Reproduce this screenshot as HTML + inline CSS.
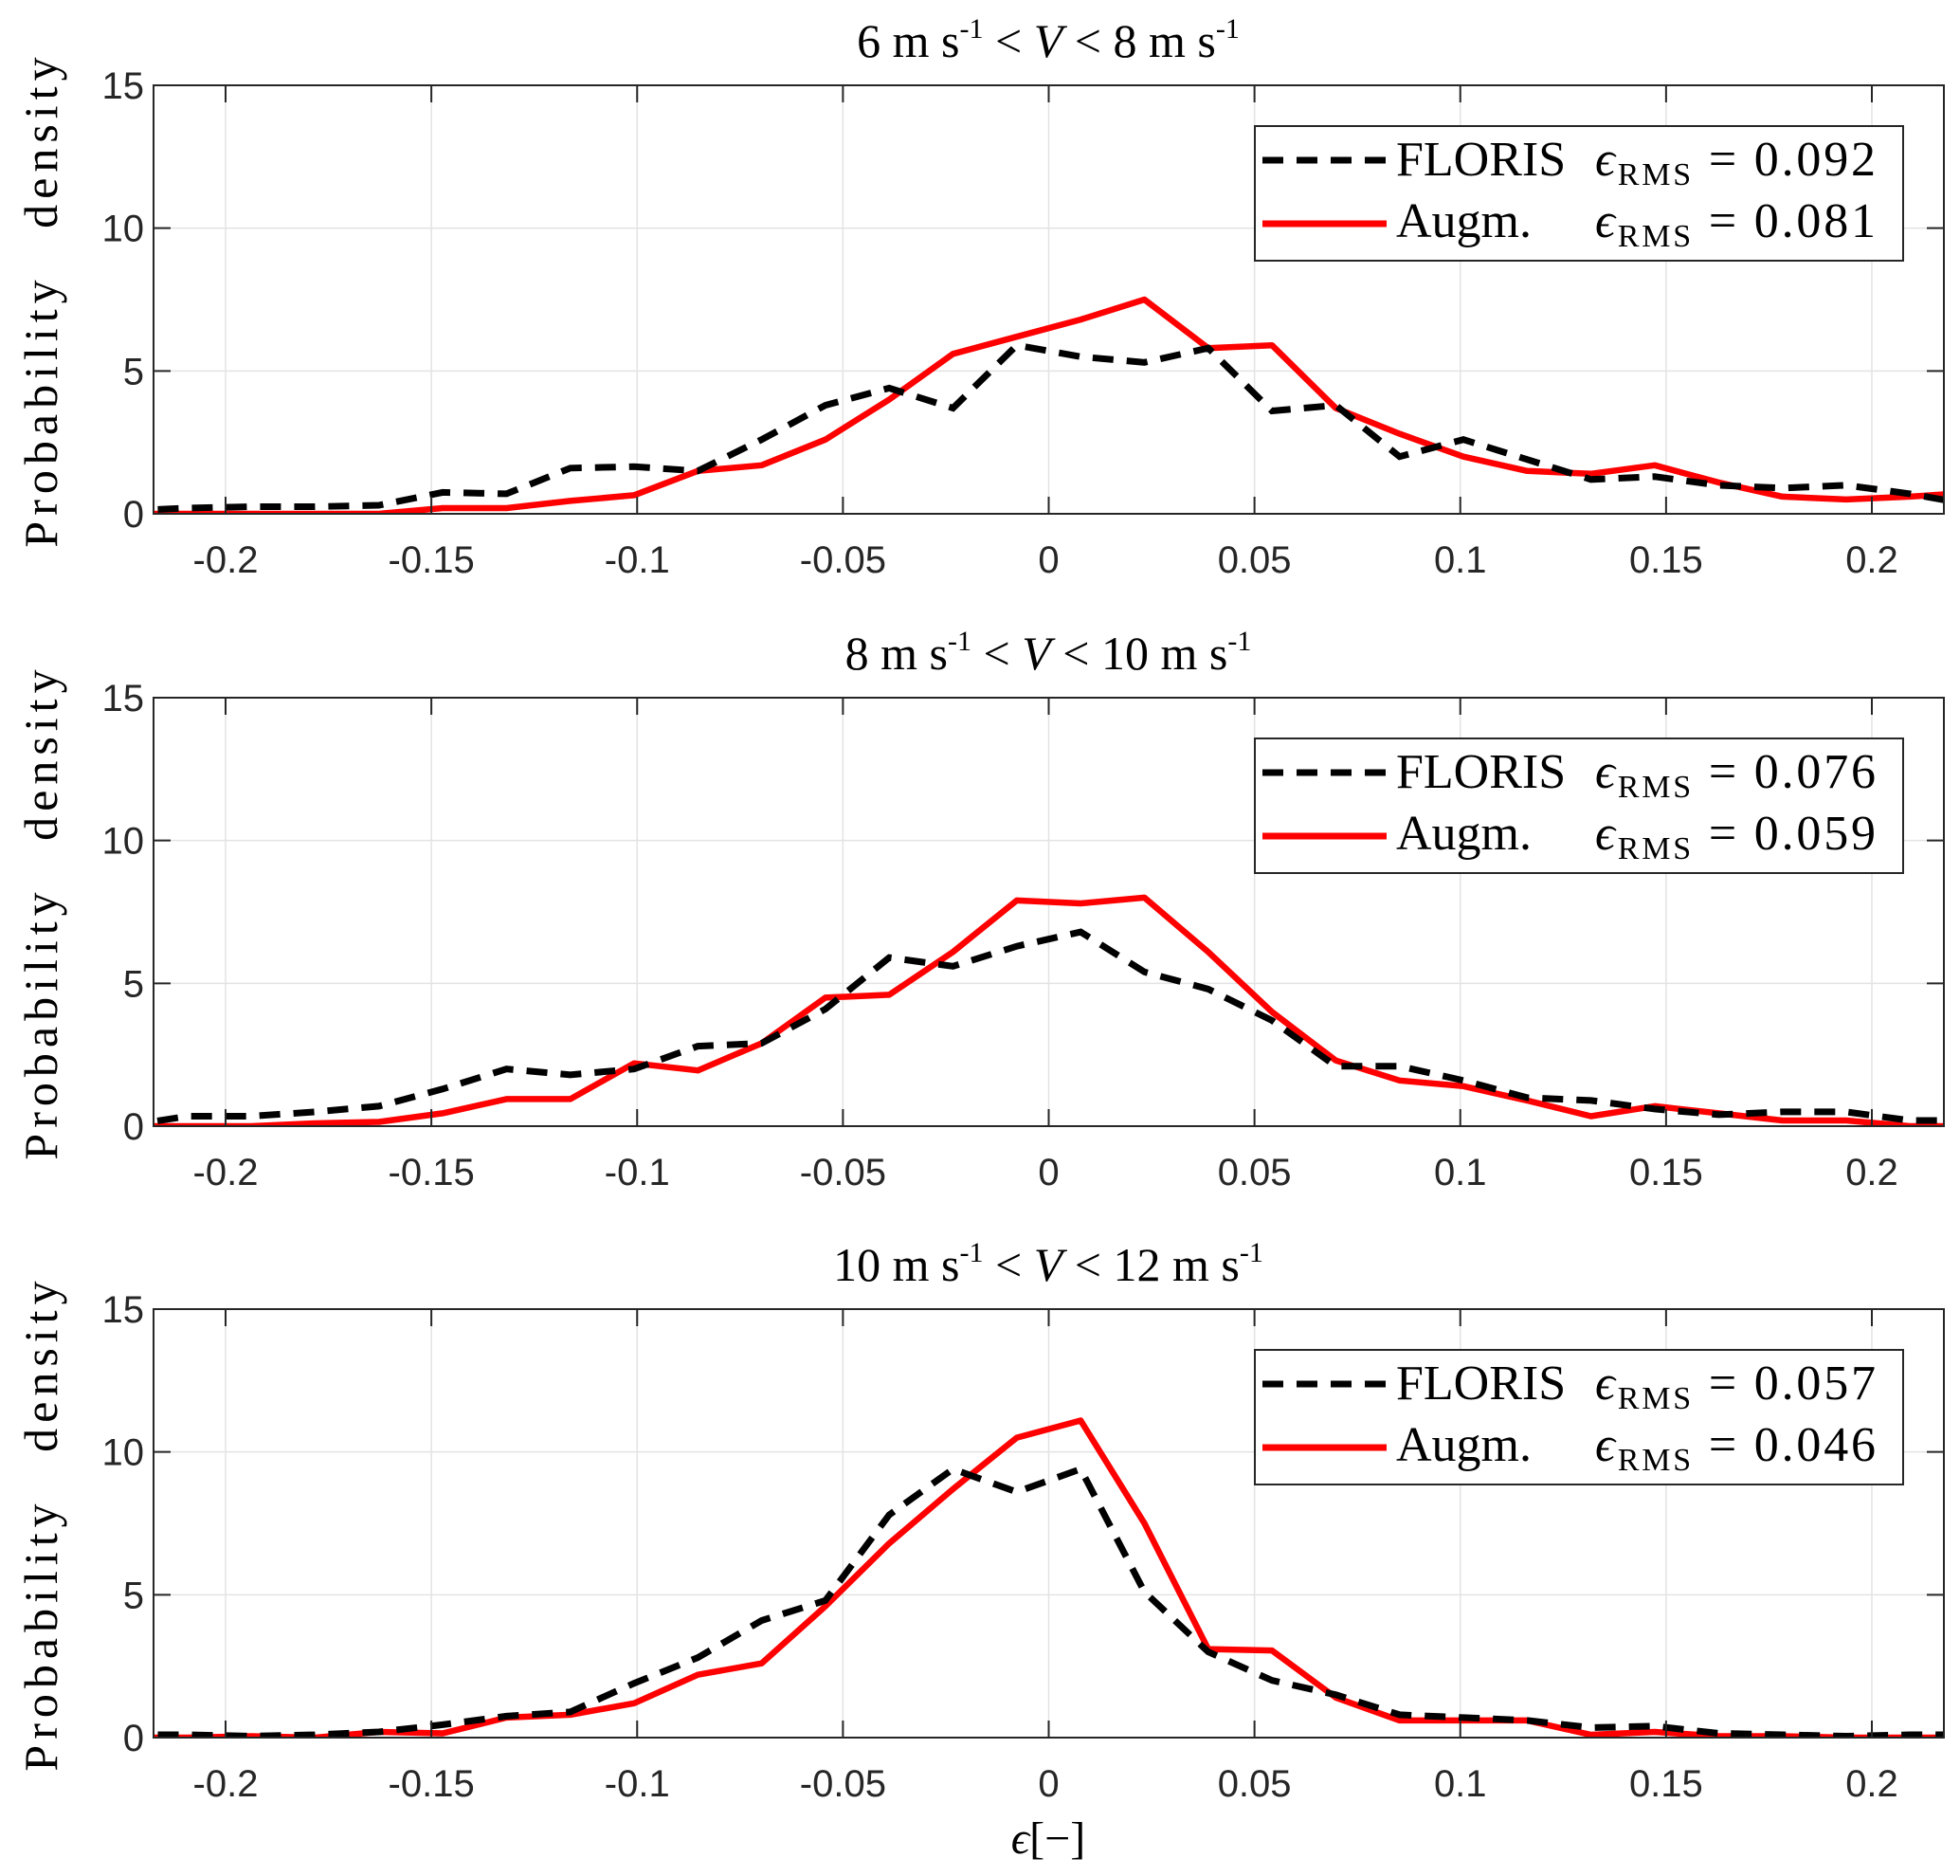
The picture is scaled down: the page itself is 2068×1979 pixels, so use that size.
<!DOCTYPE html>
<html><head><meta charset="utf-8"><style>
html,body{margin:0;padding:0;background:#fff;}
svg{display:block;}
.tk{font-family:"Liberation Sans",sans-serif;font-size:40px;fill:#262626;}
.sr{font-family:"Liberation Serif",serif;fill:#000;}
</style></head><body>
<svg id="chart" width="2068" height="1979" viewBox="0 0 2068 1979" xmlns="http://www.w3.org/2000/svg"></svg>
<script>
const binCenters = [-0.22475,-0.20925,-0.19375,-0.17825,-0.16275,-0.14725,-0.13175,-0.11625,-0.10075,-0.08525,-0.06975,-0.05425,-0.03875,-0.02325,-0.00775,0.00775,0.02325,0.03875,0.05425,0.06975,0.08525,0.10075,0.11625,0.13175,0.14725,0.16275,0.17825,0.19375,0.20925,0.22475];
const xTicks = [-0.2,-0.15,-0.1,-0.05,0,0.05,0.1,0.15,0.2];
const xTickLabels = ["-0.2","-0.15","-0.1","-0.05","0","0.05","0.1","0.15","0.2"];
const yTicks = [0,5,10,15];
const yTickLabels = ["0","5","10","15"];
const floris1 = [0.1,0.2,0.25,0.25,0.3,0.75,0.7,1.6,1.65,1.5,2.6,3.8,4.4,3.7,5.9,5.5,5.3,5.8,3.6,3.8,2.0,2.6,1.9,1.2,1.3,1.0,0.9,1.0,0.7,0.3];
const augm1 = [0,0,0,0,0,0.2,0.2,0.45,0.65,1.5,1.7,2.6,4.0,5.6,6.2,6.8,7.5,5.8,5.9,3.7,2.8,2.0,1.5,1.4,1.7,1.1,0.6,0.5,0.6,0.75];
const floris2 = [0,0.35,0.35,0.5,0.7,1.3,2.0,1.8,2.0,2.8,2.9,4.1,5.9,5.6,6.3,6.8,5.4,4.8,3.7,2.1,2.1,1.6,1.0,0.9,0.6,0.4,0.5,0.5,0.2,0.2];
const augm2 = [0,0,0,0.1,0.15,0.45,0.95,0.95,2.2,1.95,2.9,4.5,4.6,6.1,7.9,7.8,8.0,6.1,4.0,2.3,1.6,1.4,0.9,0.35,0.7,0.45,0.2,0.2,0,0];
const floris3 = [0.1,0.1,0.05,0.1,0.2,0.45,0.75,0.9,1.9,2.8,4.1,4.8,7.8,9.4,8.6,9.4,5.1,3.0,2.0,1.5,0.8,0.7,0.6,0.35,0.4,0.15,0.1,0.05,0.1,0.1];
const augm3 = [0,0,0.05,0,0.2,0.15,0.7,0.8,1.2,2.2,2.6,4.6,6.8,8.7,10.5,11.1,7.5,3.1,3.05,1.4,0.6,0.6,0.6,0.1,0.2,0.05,0.05,0,0,0];
const panelTitles = [["6","8"],["8","10"],["10","12"]];
const rmsFloris = ["0.092","0.076","0.057"];
const rmsAugm = ["0.081","0.059","0.046"];

const NS="http://www.w3.org/2000/svg";
const svg=document.getElementById('chart');
function mk(tag,attrs,parent){const e=document.createElementNS(NS,tag);for(const k in attrs)e.setAttribute(k,attrs[k]);(parent||svg).appendChild(e);return e;}
const L=162,R=2051,XMIN=-0.2175,XMAX=0.2175;
const tops=[90,736,1381],H=452;
const xs=v=>L+(v-XMIN)/(XMAX-XMIN)*(R-L);
const series=[[floris1,augm1],[floris2,augm2],[floris3,augm3]];

for(let p=0;p<3;p++){
  const T=tops[p],B=T+H;
  const ys=v=>B-v/15*H;
  const g=mk('g',{});
  
  
  const clipId='clip'+p;
  const cp=mk('clipPath',{id:clipId},g);mk('rect',{x:L,y:T,width:R-L,height:H},cp);
  xTicks.forEach(t=>{const l=mk('line',{x1:xs(t),x2:xs(t),y1:T,y2:B,stroke:'#e3e3e3','stroke-width':1.5},g);
    });
  yTicks.forEach(t=>{const l=mk('line',{x1:L,x2:R,y1:ys(t),y2:ys(t),stroke:'#e3e3e3','stroke-width':1.5},g);
    });
  const mkPath=(arr)=>arr.map((v,i)=>(i?'L':'M')+xs(binCenters[i]).toFixed(1)+','+ys(v).toFixed(1)).join(' ');
  const red=mk('path',{d:mkPath(series[p][1]),fill:'none',stroke:'#ff0000','stroke-width':6.5,'stroke-linejoin':'round','clip-path':'url(#'+clipId+')'},g);
  
  const blk=mk('path',{d:mkPath(series[p][0]),fill:'none',stroke:'#000','stroke-width':7,'stroke-dasharray':'22,14','clip-path':'url(#'+clipId+')'},g);
  
  const box=mk('rect',{x:L,y:T,width:R-L,height:H,fill:'none',stroke:'#262626','stroke-width':2},g);
  
  xTicks.forEach((t,i)=>{
    mk('line',{x1:xs(t),x2:xs(t),y1:B,y2:B-18,stroke:'#262626','stroke-width':2},g);
    mk('line',{x1:xs(t),x2:xs(t),y1:T,y2:T+18,stroke:'#262626','stroke-width':2},g);
    const tx=mk('text',{x:xs(t),y:B+62,'text-anchor':'middle',class:'tk'},g);tx.textContent=xTickLabels[i];
    
  });
  yTicks.forEach((t,i)=>{
    mk('line',{x1:L,x2:L+18,y1:ys(t),y2:ys(t),stroke:'#262626','stroke-width':2},g);
    mk('line',{x1:R,x2:R-18,y1:ys(t),y2:ys(t),stroke:'#262626','stroke-width':2},g);
    const tx=mk('text',{x:L-10,y:ys(t)+14,'text-anchor':'end',class:'tk'},g);tx.textContent=yTickLabels[i];
    
  });
  const yl=mk('text',{x:0,y:0,transform:'translate(60,'+(T+H/2)+') rotate(-90)','text-anchor':'middle',class:'sr','font-size':50,'letter-spacing':'6','word-spacing':'30',fill:'#262626'},g);
  yl.textContent='Probability density';
  
  const ti=mk('text',{x:1106,y:T-30,'text-anchor':'middle',class:'sr','font-size':50},g);
  ti.innerHTML=panelTitles[p][0]+' m s<tspan dy="-20" font-size="30">-1</tspan><tspan dy="20"> &lt; </tspan><tspan font-style="italic">V</tspan> &lt; '+panelTitles[p][1]+' m s<tspan dy="-20" font-size="30">-1</tspan>';
  
  const lg=mk('g',{},g);
  
  const LT=T+43;
  mk('rect',{x:1324,y:LT,width:684,height:142,fill:'#fff',stroke:'#262626','stroke-width':2},lg);
  mk('line',{x1:1332,x2:1463,y1:LT+36,y2:LT+36,stroke:'#000','stroke-width':7,'stroke-dasharray':'22,14'},lg);
  mk('line',{x1:1332,x2:1463,y1:LT+103,y2:LT+103,stroke:'#ff0000','stroke-width':7},lg);
  const t1=mk('text',{x:1473,y:LT+52,class:'sr','font-size':52},lg);
  t1.innerHTML='FLORIS';
  
  const e1=mk('text',{x:1683,y:LT+52,class:'sr','font-size':52,textLength:296},lg);
  e1.innerHTML='<tspan font-style="italic">ϵ</tspan><tspan dy="10" font-size="34">RMS</tspan><tspan dy="-10"> = '+rmsFloris[p]+'</tspan>';
  const t2=mk('text',{x:1473,y:LT+117,class:'sr','font-size':52},lg);
  t2.innerHTML='Augm.';
  
  const e2=mk('text',{x:1683,y:LT+117,class:'sr','font-size':52,textLength:296},lg);
  e2.innerHTML='<tspan font-style="italic">ϵ</tspan><tspan dy="10" font-size="34">RMS</tspan><tspan dy="-10"> = '+rmsAugm[p]+'</tspan>';
}
const xl=mk('text',{x:1106,y:1955,'text-anchor':'middle',class:'sr','font-size':48,fill:'#262626'});
xl.innerHTML='<tspan font-style="italic">ϵ</tspan>[−]';


</script>
</body></html>
